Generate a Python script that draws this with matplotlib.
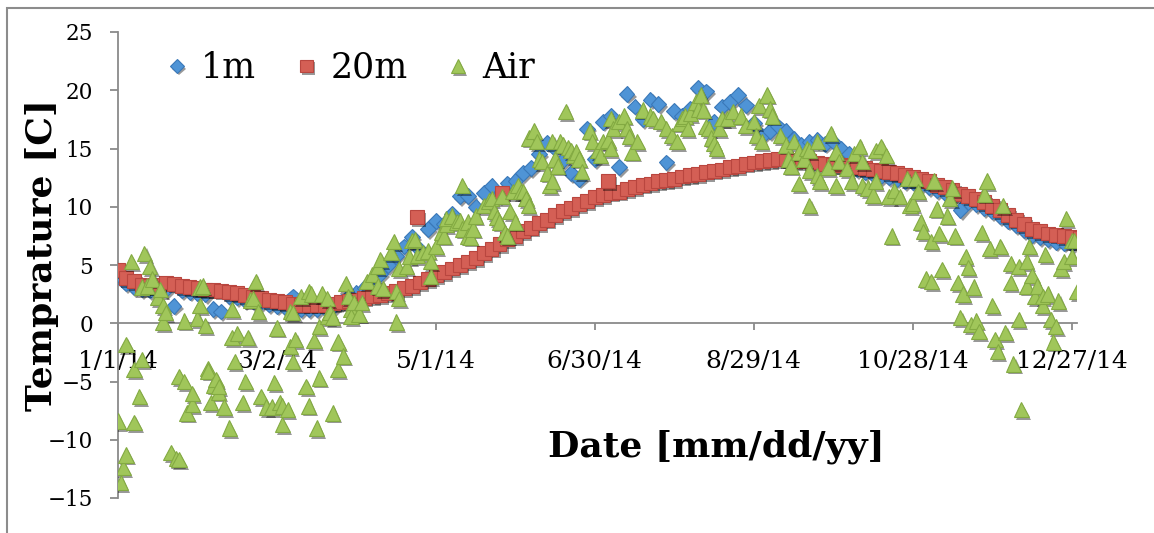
import matplotlib
matplotlib.use("Agg")
import matplotlib.pyplot as plt
import matplotlib.patheffects as pe
from matplotlib.dates import num2date
from matplotlib.lines import Line2D
from matplotlib.patches import Rectangle
from matplotlib.ticker import FuncFormatter
import numpy as np

START = np.datetime64("2014-01-01")

# 1 m and 20 m loggers, every third day (day of year from 1/1/14)
depth_day = list(range(0, 364, 3))
temp_1m = [
    4.2, 3.4, 3.1, 2.9, 2.8, 2.8, 2.9, 1.5, 2.8, 2.7, 2.6, 2.5, 1.2, 1.0, 2.3, 2.2,
    2.0, 1.9, 1.8, 1.6, 1.5, 1.4, 2.3, 1.2, 1.2, 1.2, 1.3, 1.4, 1.8, 2.3, 2.6, 3.0,
    3.6, 4.2, 5.0, 5.8, 6.6, 7.4, 6.3, 8.1, 8.8, 8.5, 9.4, 10.9, 10.9, 10.0, 11.2, 11.8,
    11.0, 12.0, 12.2, 12.9, 13.3, 14.5, 15.5, 15.0, 14.0, 12.9, 12.4, 16.7, 14.1, 17.3,
    17.8, 13.4, 19.7, 18.6, 17.5, 19.2, 18.8, 13.8, 18.2, 17.8, 18.4, 20.2, 19.9, 17.3,
    18.6, 19.0, 19.6, 18.7, 17.2, 16.1, 16.5, 16.9, 16.5, 15.8, 15.3, 15.6, 15.7, 15.4,
    15.6, 15.0, 14.5, 13.2, 13.0, 12.8, 12.6, 12.5, 12.4, 12.2, 12.1, 11.9, 11.7, 11.4,
    11.2, 10.9, 9.7, 10.4, 10.2, 9.9, 9.6, 9.2, 8.8, 8.4, 8.0, 7.6, 7.4, 7.2, 7.0, 6.9,
    6.8, 6.8,
]
temp_20m = [
    4.6, 3.9, 3.6, 3.3, 3.2, 3.3, 3.5, 3.4, 3.2, 3.1, 3.0, 2.9, 2.9, 2.8, 2.7, 2.6,
    2.4, 2.3, 2.2, 2.0, 1.9, 1.8, 1.7, 1.6, 1.6, 1.6, 1.6, 1.7, 1.8, 1.9, 2.0, 2.2,
    2.3, 2.4, 2.6, 2.8, 3.0, 3.2, 3.5, 3.8, 4.1, 4.4, 4.7, 5.0, 5.3, 5.6, 6.0, 6.4,
    6.8, 7.2, 7.5, 7.9, 8.2, 8.6, 8.9, 9.3, 9.6, 9.9, 10.2, 10.5, 10.8, 11.0, 11.2, 11.3,
    11.5, 11.7, 11.9, 12.0, 12.2, 12.3, 12.4, 12.6, 12.7, 12.8, 13.0, 13.1, 13.2, 13.4,
    13.5, 13.7, 13.8, 13.9, 14.0, 14.1, 14.1, 14.0, 13.9, 13.9, 13.8, 13.7, 13.6, 13.6,
    13.5, 13.4, 13.3, 13.2, 13.1, 13.0, 12.9, 12.7, 12.6, 12.4, 12.2, 11.9, 11.7, 11.4,
    11.1, 10.9, 10.7, 10.4, 10.1, 9.7, 9.3, 8.9, 8.5, 8.1, 7.9, 7.7, 7.6, 7.5, 7.4, 7.3,
]
# a few 20 m days that stand off the curve
extra_20m_day = [113, 145, 185]
extra_20m = [9.1, 11.2, 12.2]

air_day = [
    0, 1, 2, 3, 3, 5, 6, 6, 8, 9, 9, 10, 11, 12, 13, 15, 16, 17, 17, 18,
    20, 22, 23, 23, 25, 25, 26, 28, 28, 30, 31, 31, 32, 33, 34, 34, 35, 36, 37, 38,
    38, 40, 42, 43, 43, 44, 45, 47, 48, 49, 50, 51, 52, 53, 54, 56, 58, 59, 60, 61,
    62, 62, 64, 65, 65, 66, 66, 67, 69, 71, 72, 72, 73, 74, 75, 76, 76, 77, 79, 79,
    80, 81, 81, 83, 83, 85, 86, 87, 88, 88, 89, 91, 92, 94, 96, 98, 98, 99, 100, 103,
    104, 105, 105, 106, 106, 109, 110, 111, 112, 113, 115, 117, 118, 118, 120, 122, 123, 124, 124, 126,
    128, 129, 130, 130, 132, 132, 133, 134, 135, 138, 140, 141, 142, 143, 144, 145, 146, 147, 148, 149,
    150, 151, 152, 153, 154, 155, 155, 157, 158, 159, 160, 162, 163, 164, 164, 165, 166, 167, 168, 169,
    170, 171, 172, 173, 174, 175, 178, 179, 181, 182, 183, 185, 186, 186, 187, 189, 191, 192, 193, 194,
    196, 198, 201, 202, 205, 207, 209, 211, 212, 213, 214, 215, 216, 218, 219, 220, 221, 222, 223, 224,
    225, 226, 227, 228, 230, 232, 235, 237, 240, 241, 242, 243, 245, 246, 247, 250, 252, 253, 254, 255,
    257, 257, 259, 260, 261, 261, 261, 264, 264, 265, 268, 269, 271, 271, 272, 275, 277, 278, 280, 281,
    281, 283, 285, 286, 286, 288, 290, 291, 292, 293, 295, 298, 299, 300, 301, 302, 303, 304, 305, 307,
    307, 308, 309, 310, 311, 313, 314, 315, 316, 317, 318, 319, 320, 321, 322, 323, 324, 325, 326, 327,
    328, 329, 330, 331, 332, 333, 334, 335, 337, 337, 338, 340, 340, 341, 343, 343, 344, 345, 346, 347,
    349, 349, 350, 351, 352, 353, 354, 355, 356, 357, 358, 360, 360, 361, 362,
]
air_temp = [
    -8.4, -13.7, -12.4, -11.3, -1.8, 5.3, -4.0, -8.5, -6.3, -3.1, 3.1, 6.0, 3.2, 4.9, 3.8, 2.2, 2.9, 1.5, 0.1, 0.9,
    -11.1, -11.6, -11.7, -4.6, -5.0, 0.2, -7.7, -7.0, -6.0, 0.4, 3.1, 1.5, 3.2, -0.2, -3.9, -4.1, -6.8, -5.3, -4.8, -5.9,
    -5.4, -7.2, -9.0, -1.2, 1.2, -3.3, -0.9, -6.8, -5.0, -1.2, 2.0, 2.1, 3.6, 1.0, -6.3, -7.2, -7.2, -5.1, -0.4, -6.8,
    -8.7, -7.1, -7.4, -2.0, 1.0, 0.9, -3.3, -1.4, 2.3, -5.4, -7.1, 2.7, 2.5, -1.5, -9.0, -4.7, -0.3, 2.5, 2.1, 0.6,
    0.9, 0.5, -7.7, -1.6, -4.0, -2.8, 3.4, 2.3, 1.2, 0.6, 1.8, 0.8, 1.8, 3.6, 4.2, 4.9, 3.2, 5.5, 3.0, 6.1,
    7.0, 2.7, 0.1, 2.1, 4.7, 4.9, 5.7, 7.1, 7.2, 5.8, 6.1, 6.2, 5.3, 4.0, 6.6, 7.8, 7.5, 8.5, 9.0, 9.2,
    8.7, 8.8, 11.8, 8.1, 8.7, 7.5, 7.4, 8.1, 9.2, 10.1, 10.5, 10.7, 9.6, 9.1, 8.7, 10.9, 7.8, 7.5, 9.6, 11.3,
    8.7, 11.8, 11.3, 11.3, 10.7, 10.1, 15.9, 16.5, 15.6, 14.1, 13.9, 12.9, 11.8, 12.2, 15.6, 14.1, 13.5, 15.6, 15.3, 18.2,
    15.1, 14.8, 14.4, 14.7, 14.1, 13.0, 16.5, 15.6, 14.8, 14.4, 15.6, 15.7, 17.6, 15.0, 16.7, 17.3, 17.8, 16.7, 16.0, 14.7,
    15.6, 18.3, 17.8, 17.6, 17.3, 16.7, 16.1, 15.6, 17.2, 17.6, 17.8, 16.7, 18.0, 19.0, 18.4, 19.6, 18.3, 16.9, 16.7, 15.9,
    15.4, 15.0, 16.7, 17.6, 17.6, 18.2, 17.8, 17.0, 17.3, 16.1, 18.7, 15.6, 19.6, 18.4, 17.8, 16.1, 15.3, 14.1, 13.5, 15.6,
    12.0, 14.7, 14.1, 15.0, 14.8, 10.1, 13.1, 15.6, 12.7, 12.2, 13.4, 16.3, 14.7, 11.8, 13.9, 13.3, 12.2, 14.6, 15.2, 11.8,
    13.9, 11.6, 11.0, 12.2, 14.8, 15.2, 14.4, 10.9, 7.5, 11.4, 10.9, 12.4, 10.1, 10.3, 12.4, 11.3, 8.7, 7.9, 3.8, 7.0,
    3.6, 12.2, 9.8, 7.7, 4.6, 9.2, 10.7, 11.6, 7.5, 3.5, 0.5, 2.5, 5.7, 4.8, -0.1, 3.1, 0.2, -0.7, 7.8, 11.1,
    12.2, 6.4, 1.5, -1.4, -2.4, 6.6, 10.1, -0.8, 5.1, 3.5, -3.5, 4.9, 0.3, -7.4, 5.3, 3.2, 6.6, 4.1, 2.3, 3.2,
    1.5, 2.3, 5.9, 2.5, 0.3, -1.6, -0.3, 1.9, 4.7, 5.3, 9.0, 7.1, 5.7, 7.1, 2.7,
]

tick_days = [0, 60, 120, 180, 240, 300, 360]
y_ticks = [-15, -10, -5, 0, 5, 10, 15, 20, 25]

BLUE, BLUE_EDGE = "#4f94d6", "#3a78b8"
RED, RED_EDGE = "#d45f55", "#b9463f"
GREEN, GREEN_EDGE = "#a0c65a", "#83aa42"
AXIS_GREY = "#8a8a8a"


def to_dates(days):
    return START + np.asarray(days).astype("timedelta64[D]")


def date_label(value, pos=None):
    d = num2date(value)
    return f"{d.month}/{d.day}/{d.year % 100}"


shadow = [pe.SimplePatchShadow(offset=(1.5, -2), shadow_rgbFace="black", alpha=0.4), pe.Normal()]

fig = plt.figure(figsize=(11.54, 5.33), dpi=100)
ax = fig.add_axes([118 / 1154, 35 / 533, 959 / 1154, 466 / 533])

ax.plot(to_dates(depth_day), temp_1m, linestyle="none", marker="D", markersize=8,
        markerfacecolor=BLUE, markeredgecolor=BLUE_EDGE, markeredgewidth=0.8,
        path_effects=shadow, zorder=3)
ax.plot(to_dates(depth_day), temp_20m, linestyle="none", marker="s", markersize=10,
        markerfacecolor=RED, markeredgecolor=RED_EDGE, markeredgewidth=0.8,
        path_effects=shadow, zorder=4)
ax.plot(to_dates(extra_20m_day), extra_20m, linestyle="none", marker="s", markersize=10,
        markerfacecolor=RED, markeredgecolor=RED_EDGE, markeredgewidth=0.8,
        path_effects=shadow, zorder=4)
ax.plot(to_dates(air_day), air_temp, linestyle="none", marker="^", markersize=11,
        markerfacecolor=GREEN, markeredgecolor=GREEN_EDGE, markeredgewidth=0.8,
        path_effects=shadow, zorder=5)

ax.set_ylim(-15, 25)
ax.set_xlim(to_dates([0])[0], to_dates([362])[0])
ax.set_yticks(y_ticks)
ax.set_xticks(to_dates(tick_days))
ax.xaxis.set_major_formatter(FuncFormatter(date_label))

for side in ("top", "right"):
    ax.spines[side].set_visible(False)
ax.spines["bottom"].set_position(("data", 0))
for side in ("left", "bottom"):
    ax.spines[side].set_color(AXIS_GREY)
    ax.spines[side].set_linewidth(1.3)

ax.tick_params(axis="y", direction="out", length=6, width=1.3, color=AXIS_GREY,
               pad=12, labelsize=15.5, labelfontfamily="DejaVu Serif")
ax.tick_params(axis="x", direction="out", length=5, width=1.3, color=AXIS_GREY,
               pad=14, labelsize=18, labelfontfamily="DejaVu Serif")
ax.patch.set_visible(False)

fig.text(42 / 1154, 1 - 255 / 533, "Temprature [C]", rotation=90, ha="center", va="center",
         fontsize=26, fontweight="bold", family="DejaVu Serif")
fig.text(716 / 1154, 1 - 447 / 533, "Date [mm/dd/yy]", ha="center", va="center",
         fontsize=26, fontweight="bold", family="DejaVu Serif")

handles = [
    Line2D([], [], linestyle="none", marker="D", markersize=7, markerfacecolor=BLUE,
           markeredgecolor=BLUE_EDGE, markeredgewidth=0.8, path_effects=shadow),
    Line2D([], [], linestyle="none", marker="s", markersize=9, markerfacecolor=RED,
           markeredgecolor=RED_EDGE, markeredgewidth=0.8, path_effects=shadow),
    Line2D([], [], linestyle="none", marker="^", markersize=10, markerfacecolor=GREEN,
           markeredgecolor=GREEN_EDGE, markeredgewidth=0.8, path_effects=shadow),
]
fig.legend(handles, ["1m", "20m", "Air"], loc="center left",
           bbox_to_anchor=(168 / 1154, 1 - 68 / 533), ncol=3, frameon=False,
           prop={"family": "DejaVu Serif", "size": 25}, handlelength=0.5,
           handletextpad=0.45, columnspacing=1.2, borderpad=0, borderaxespad=0)

# outline of the pasted chart
fig.patches.append(Rectangle((7 / 1154, -0.1), 1.2, 1.1 - 8 / 533, transform=fig.transFigure,
                             fill=False, edgecolor="#8c8c8c", linewidth=1.5))

fig.savefig("out.png", dpi=100)
